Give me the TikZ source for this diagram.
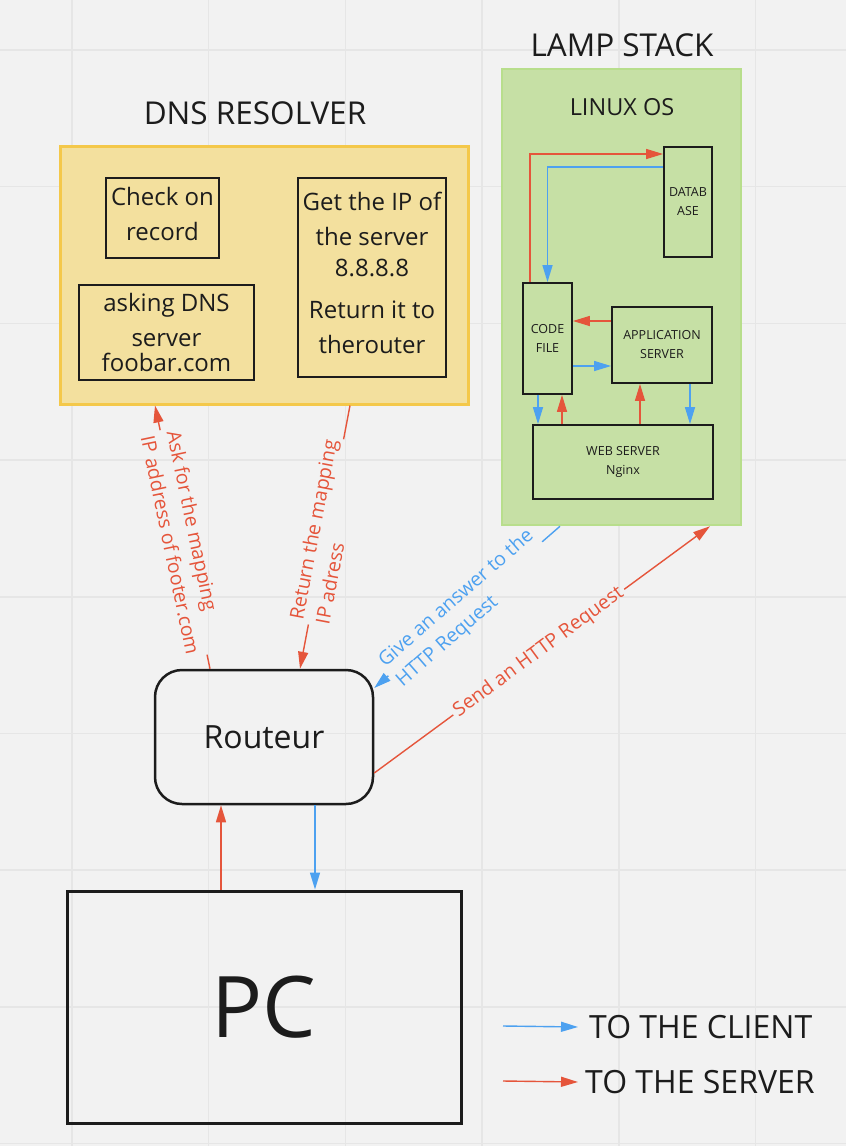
\documentclass[tikz,border=0pt]{standalone}
\usepackage{fontspec}
\setmainfont{Open Sans}
\usetikzlibrary{arrows.meta,calc}
\definecolor{bg}{HTML}{F2F2F2}
\definecolor{gridc}{HTML}{E6E6E6}
\definecolor{ared}{HTML}{E5553B}
\definecolor{ablue}{HTML}{4DA1F0}
\definecolor{dnsfill}{HTML}{F3E09E}
\definecolor{dnsborder}{HTML}{F4C84A}
\definecolor{lampfill}{HTML}{C6E0A5}
\definecolor{lampborder}{HTML}{B8DE8C}
\definecolor{ink}{HTML}{1C1C1C}
\begin{document}
\begin{tikzpicture}[x=1pt,y=-1pt,
  tip/.style={-{Triangle[length=17pt,width=10pt]}},
  rl/.style={draw=ared, line width=1.4pt},
  bl/.style={draw=ablue, line width=1.4pt},
  box/.style={draw=ink, line width=1.5pt, inner sep=0pt, align=center, text=ink},
  smallbox/.style={box, line width=1.8pt, font=\fontsize{12.5}{19}\selectfont},
  dnsbox/.style={box, font=\fontsize{24}{35}\selectfont},
  dnstext/.style={align=center, text=ink, inner sep=0pt, font=\fontsize{24}{35}\selectfont},
  lbl/.style={font=\fontsize{19.5}{26.5}\selectfont, align=left, inner sep=3pt, sloped},
  title/.style={font=\fontsize{31.5}{38}\selectfont, text=ink},
  legtext/.style={font=\fontsize{32}{38}\selectfont, text=ink, anchor=west, inner sep=0pt}
]
\fill[bg] (0,0) rectangle (846,1146);
\useasboundingbox (0,0) rectangle (846,1146);
\foreach \x in {72,208.7,345.4,482,618.8,755.5}
  \draw[gridc, line width=1.5pt] (\x,0) -- (\x,1146);
\foreach \y in {50,186.7,323.4,460,596.8,733.5,870.2,1006.9,1143.6}
  \draw[gridc, line width=1.5pt] (0,\y) -- (846,\y);

% DNS resolver
\node[title] (dnstitle) at (255,113) {DNS RESOLVER};
\node[draw=dnsborder, fill=dnsfill, line width=3pt, minimum width=408pt, minimum height=258pt] (dns) at (264,275) {};
\node[box, minimum width=113pt, minimum height=80pt] (check) at (162.5,218) {};
\node[dnstext] (checktxt) at ([yshift=4pt]check.center) {Check on\\record};
\node[dnsbox, minimum width=175pt, minimum height=95pt] (asking) at (166.5,332.5) {asking DNS\\server\\[-10pt]foobar.com};
\node[box, minimum width=148pt, minimum height=199pt] (getip) at (372,277.5) {};
\node[dnstext] (getiptxt) at ([yshift=4.5pt]getip.center) {Get the IP of\\the server\\[-4pt]8.8.8.8\\[7pt]Return it to\\therouter};

% LAMP stack
\node[title] (lamptitle) at (622,45) {LAMP STACK};
\node[draw=lampborder, fill=lampfill, line width=2.5pt, minimum width=239pt, minimum height=456pt] (lamp) at (621.5,297) {};
\node[font=\fontsize{23.5}{28}\selectfont, text=ink] (linux) at (622,107) {LINUX OS};
\node[smallbox, minimum width=48pt, minimum height=110pt] (db) at (688,202) {DATAB\\ASE};
\node[smallbox, minimum width=49pt, minimum height=111pt] (code) at (547.5,338.5) {CODE\\FILE};
\node[smallbox, minimum width=100pt, minimum height=76pt] (app) at (662,345) {APPLICATION\\SERVER};
\node[smallbox, minimum width=180pt, minimum height=74pt] (web) at (623,462) {WEB SERVER\\Nginx};

% inner LAMP connectors
\draw[rl, tip] ([xshift=-17.5pt]code.north) |- ([yshift=48pt]db.west);
\draw[bl, tip] ([yshift=35pt]db.west) -| (code.north);
\coordinate (r1) at ([yshift=24pt]app.west);
\draw[rl, tip] (r1) -- (r1 -| code.east);
\coordinate (b1) at ([yshift=-21pt]app.west);
\draw[bl, tip] (b1 -| code.east) -- (b1);
\coordinate (b2) at ([xshift=-9.5pt]code.south);
\draw[bl, tip] (b2) -- (b2 |- web.north);
\coordinate (r2) at ([xshift=14.5pt]code.south);
\draw[rl, tip] (r2 |- web.north) -- (r2);
\coordinate (r3) at ([xshift=-22pt]app.south);
\draw[rl, tip] (r3 |- web.north) -- (r3);
\coordinate (b3) at ([xshift=28pt]app.south);
\draw[bl, tip] (b3) -- (b3 |- web.north);

% Router and PC
\node[draw=ink, line width=2.5pt, rounded corners=27pt, minimum width=218pt, minimum height=134pt,
      font=\fontsize{32}{38}\selectfont, text=ink] (router) at (264,737) {Routeur};
\node[draw=ink, line width=3pt, minimum width=394pt, minimum height=232pt,
      font=\fontsize{85}{95}\selectfont, text=ink] (pc) at (264,1007) {PC};

\coordinate (r4) at ([xshift=-43pt]pc.north);
\draw[rl, tip] (r4) -- (r4 |- router.south);
\coordinate (b4) at ([xshift=51pt]router.south);
\draw[bl, tip] (b4) -- (b4 |- pc.north);

% DNS connectors
\coordinate (askA) at ([xshift=-54pt]router.north);
\coordinate (askB) at ([xshift=-109pt]dns.south);
\path (askA) -- (askB) node[lbl, text=ared, pos=0.48] (asklbl) {Ask for the mapping\\IP address of footer.com};
\draw[rl] (askA) -- (asklbl);
\draw[rl, tip] (asklbl) -- (askB);

\coordinate (retA) at ([xshift=86pt]dns.south);
\coordinate (retB) at ([xshift=36pt]router.north);
\path (retA) -- (retB) node[lbl, text=ared, pos=0.48] (retlbl) {Return the mapping\\IP adress};
\draw[rl] (retA) -- (retlbl);
\draw[rl, tip] (retlbl) -- (retB);

% HTTP connectors
\coordinate (ansA) at ([xshift=-61.5pt]lamp.south);
\coordinate (ansB) at ([yshift=49pt]router.east);
\path (ansA) -- (ansB) node[lbl, text=ablue, pos=0.51] (anslbl) {Give an answer to the\\HTTP Request};
\draw[bl] (ansA) -- (anslbl);
\draw[bl, tip] (anslbl) -- (ansB);

\coordinate (sendA) at ([yshift=-36pt]router.east);
\coordinate (sendB) at ([xshift=88.5pt]lamp.south);
\path (sendA) -- (sendB) node[lbl, text=ared, pos=0.49] (sendlbl) {Send an HTTP Request};
\draw[rl] (sendA) -- (sendlbl);
\draw[rl, tip] (sendlbl) -- (sendB);

% Legend
\node[legtext] (legc) at (589,1027) {TO THE CLIENT};
\node[legtext] (legs) at (585,1082) {TO THE SERVER};
\coordinate (lc) at (503,1026);
\coordinate (ls) at (503,1081);
\draw[bl, tip] (lc) -- ([xshift=-11pt]legc.west);
\draw[rl, tip] (ls) -- ([xshift=-7pt]legs.west);
\end{tikzpicture}
\end{document}
